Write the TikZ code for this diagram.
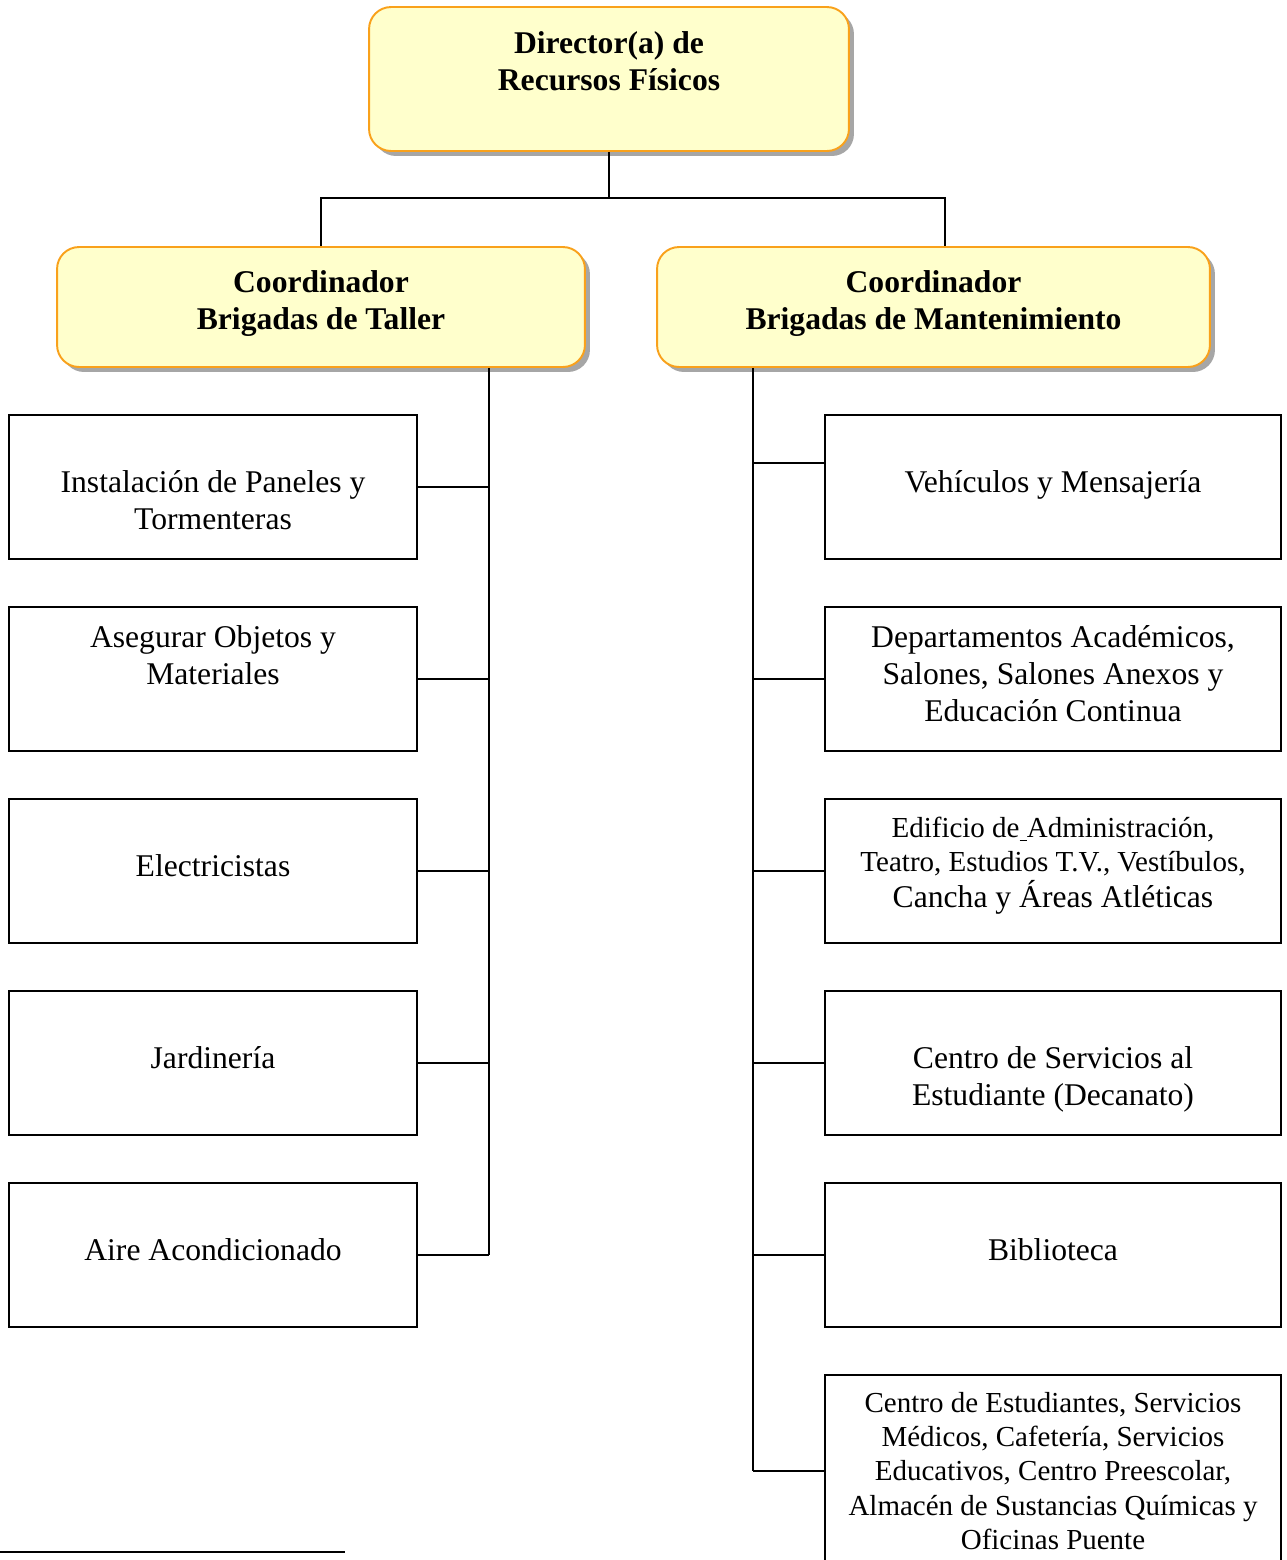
\documentclass[tikz,border=0pt]{standalone}
\usepackage{fontspec}
\setmainfont{Liberation Serif}
\usetikzlibrary{positioning,shadows}

\definecolor{headfill}{HTML}{FFFFCC}
\definecolor{headline}{HTML}{F9A11B}
\definecolor{shadowgray}{HTML}{A6A6A6}

\tikzset{
  headbox/.style={rectangle, rounded corners=0.44cm, draw=headline, fill=headfill, line width=1.1pt,
    drop shadow={shadow xshift=0.1cm, shadow yshift=-0.1cm, fill=shadowgray, opacity=1}},
  leafbox/.style={rectangle, draw, line width=1.1pt, minimum height=2.88cm},
  headtext/.style={align=center, font=\fontsize{18}{21}\selectfont\bfseries},
  leaftext/.style={align=center, font=\fontsize{18}{21}\selectfont},
  smalltext/.style={align=center, font=\fontsize{16.5}{19.4}\selectfont},
  link/.style={line width=1.1pt}
}

\begin{document}
\begin{tikzpicture}[x=0.02cm, y=-0.02cm]
  \useasboundingbox (0,0) rectangle (1287,1560);

  % Heads
  \node[headbox, minimum width=9.6cm, minimum height=2.88cm] (dir) at (609,79) {};
  \node[headtext] (dirtxt) at ([yshift=0.36cm]dir.center) {Director(a) de\\Recursos Físicos};
  \node[headbox, minimum width=10.56cm, minimum height=2.4cm] (ctaller) at (321,307) {};
  \node[headtext] (ctallertxt) at ([yshift=0.07cm]ctaller.center) {Coordinador\\Brigadas de Taller};
  \node[headbox, minimum width=11.06cm, minimum height=2.4cm] (cmant) at (933.5,307) {};
  \node[headtext] (cmanttxt) at ([yshift=0.07cm]cmant.center) {Coordinador\\Brigadas de Mantenimiento};

  % Taller brigades
  \node[leafbox, minimum width=8.16cm] (taller1) at (213,487) {};
  \node[leaftext] (taller1txt) at ([yshift=-0.26cm]taller1.center) {Instalación de Paneles y\\Tormenteras};
  \node[leafbox, minimum width=8.16cm] (taller2) at (213,679) {};
  \node[leaftext] (taller2txt) at ([yshift=0.48cm]taller2.center) {Asegurar Objetos y\\Materiales};
  \node[leafbox, minimum width=8.16cm] (taller3) at (213,871) {};
  \node[leaftext] (taller3txt) at ([yshift=0.1cm]taller3.center) {Electricistas};
  \node[leafbox, minimum width=8.16cm] (taller4) at (213,1063) {};
  \node[leaftext] (taller4txt) at ([yshift=0.1cm]taller4.center) {Jardinería};
  \node[leafbox, minimum width=8.16cm] (taller5) at (213,1255) {};
  \node[leaftext] (taller5txt) at ([yshift=0.1cm]taller5.center) {Aire Acondicionado};

  % Mantenimiento brigades
  \node[leafbox, minimum width=9.12cm] (mant1) at (1053,487) {};
  \node[leaftext] (mant1txt) at ([yshift=0.04cm]mant1.center) {Vehículos y Mensajería};
  \node[leafbox, minimum width=9.12cm] (mant2) at (1053,679) {};
  \node[leaftext] (mant2txt) at ([yshift=0.1cm]mant2.center) {Departamentos Académicos,\\Salones, Salones Anexos y\\Educación Continua};
  \node[leafbox, minimum width=9.12cm] (mant3) at (1053,871) {};
  \node[smalltext] (mant3txt) at ([yshift=0.1cm]mant3.center) {Edificio de\underline{\ }Administración,\\Teatro, Estudios T.V., Vestíbulos,\\[1pt]{\fontsize{18}{21}\selectfont Cancha y Áreas Atléticas}};
  \node[leafbox, minimum width=9.12cm] (mant4) at (1053,1063) {};
  \node[leaftext] (mant4txt) at ([yshift=-0.32cm]mant4.center) {Centro de Servicios al\\Estudiante (Decanato)};
  \node[leafbox, minimum width=9.12cm] (mant5) at (1053,1255) {};
  \node[leaftext] (mant5txt) at ([yshift=0.1cm]mant5.center) {Biblioteca};
  \node[leafbox, minimum width=9.12cm, minimum height=3.84cm] (mant6) at (1053,1471) {};
  \node[smalltext] (mant6txt) at (mant6.center) {Centro de Estudiantes, Servicios\\Médicos, Cafetería, Servicios\\Educativos, Centro Preescolar,\\Almacén de Sustancias Químicas y\\Oficinas Puente};

  % Lines
  \coordinate (jtop) at (609,198);
  \coordinate (spineT) at (489,1255);
  \coordinate (spineM) at (753,1471);
  \draw[link] (dir.south) -- (jtop);
  \draw[link] (ctaller.north) |- (jtop) -| ([xshift=0.23cm]cmant.north);
  \draw[link] (ctaller.south -| spineT) -- (spineT);
  \foreach \n in {1,...,5}
    \draw[link] (taller\n.east) -- (taller\n.east -| spineT);
  \draw[link] (cmant.south -| spineM) -- (spineM);
  \draw[link] ([yshift=0.48cm]mant1.west) -- ([yshift=0.48cm]mant1.west -| spineM);
  \foreach \n in {2,...,6}
    \draw[link] (mant\n.west) -- (mant\n.west -| spineM);

  % footnote rule
  \draw[link] (0,1552) -- (345,1552);
\end{tikzpicture}
\end{document}
